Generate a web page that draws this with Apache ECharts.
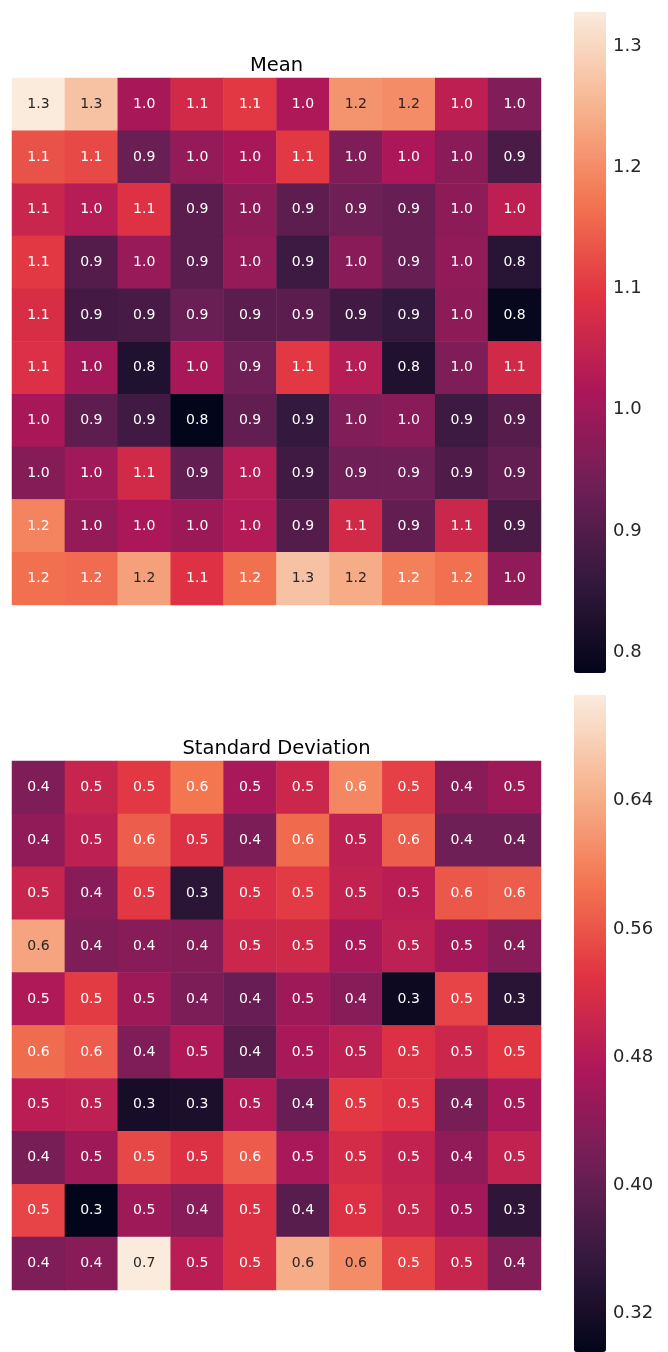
<!DOCTYPE html>
<html><head><meta charset="utf-8">
<script src="https://cdn.jsdelivr.net/npm/echarts@6/dist/echarts.min.js"></script>
<style>html,body{margin:0;padding:0;background:#fff}#c{width:668px;height:1352px}</style>
</head><body><div id="c"></div>
<script>
const colIdx = ['0','1','2','3','4','5','6','7','8','9'];
const rowIdx = ['0','1','2','3','4','5','6','7','8','9'];
const meanValues = [
  [1.328, 1.27, 1.01, 1.07, 1.10, 1.02, 1.21, 1.20, 1.04, 0.96],
  [1.13, 1.12, 0.93, 0.985, 1.01, 1.10, 0.957, 1.015, 0.97, 0.89],
  [1.058, 1.03, 1.09, 0.91, 0.975, 0.915, 0.935, 0.925, 0.975, 1.04],
  [1.10, 0.90, 0.99, 0.91, 0.985, 0.87, 0.97, 0.925, 0.98, 0.84],
  [1.08, 0.88, 0.885, 0.93, 0.91, 0.91, 0.875, 0.86, 0.975, 0.79],
  [1.085, 1.005, 0.83, 1.01, 0.935, 1.10, 1.03, 0.83, 0.957, 1.07],
  [1.01, 0.915, 0.875, 0.783, 0.92, 0.86, 0.96, 0.97, 0.87, 0.905],
  [0.965, 1.0, 1.07, 0.92, 1.03, 0.875, 0.935, 0.935, 0.895, 0.92],
  [1.19, 0.985, 1.015, 0.995, 1.025, 0.90, 1.07, 0.92, 1.06, 0.89],
  [1.165, 1.16, 1.225, 1.09, 1.165, 1.27, 1.24, 1.185, 1.165, 0.98]
];
const stdValues = [
  [0.427, 0.50, 0.535, 0.589, 0.468, 0.505, 0.604, 0.542, 0.435, 0.456],
  [0.444, 0.49, 0.567, 0.525, 0.425, 0.578, 0.49, 0.567, 0.41, 0.41],
  [0.50, 0.435, 0.535, 0.343, 0.52, 0.537, 0.495, 0.485, 0.563, 0.567],
  [0.632, 0.427, 0.435, 0.432, 0.505, 0.51, 0.468, 0.49, 0.462, 0.435],
  [0.475, 0.537, 0.456, 0.425, 0.405, 0.456, 0.435, 0.308, 0.545, 0.34],
  [0.58, 0.565, 0.427, 0.475, 0.39, 0.468, 0.49, 0.525, 0.505, 0.532],
  [0.485, 0.49, 0.32, 0.325, 0.48, 0.405, 0.535, 0.527, 0.42, 0.468],
  [0.42, 0.456, 0.548, 0.525, 0.565, 0.468, 0.515, 0.495, 0.444, 0.495],
  [0.545, 0.296, 0.456, 0.435, 0.525, 0.39, 0.525, 0.50, 0.462, 0.347],
  [0.427, 0.435, 0.706, 0.485, 0.525, 0.64, 0.61, 0.543, 0.50, 0.43]
];
const meanTicks = [0.8, 0.9, 1.0, 1.1, 1.2, 1.3];
const stdTicks = [0.32, 0.40, 0.48, 0.56, 0.64];
const titles = ['Mean', 'Standard Deviation'];

const rocket = ['#03051a','#35193e','#701f57','#ad1759','#e13342','#f37651','#f6b48f','#faebdd'];
function range(m){const f=m.flat();return [Math.min(...f),Math.max(...f)];}
const [meanMin, meanMax] = range(meanValues);
const [stdMin, stdMax] = range(stdValues);

function build(vals, mn, mx){
  const out=[];
  vals.forEach((row,r)=>row.forEach((v,c)=>{
    const t=(v-mn)/(mx-mn);
    out.push({value:[c,r,v], label:{color: t>0.758 ? '#262626' : '#ffffff'}});
  }));
  return out;
}

const G = [
  {left:12, top:78, width:529, height:527},
  {left:12, top:761, width:529, height:529}
];
const CB = [
  {left:574, top:12, width:32, height:661},
  {left:574, top:695, width:32, height:657}
];
const FONT = '"DejaVu Sans", sans-serif';

const option = {
  animation:false,
  backgroundColor:'#ffffff',
  textStyle:{fontFamily:FONT},
  title:[
    {text:titles[0], left:276.5, top:56, textAlign:'center', padding:0, textStyle:{fontFamily:FONT, fontSize:19.5, fontWeight:'normal', color:'#000'}},
    {text:titles[1], left:276.5, top:739, textAlign:'center', padding:0, textStyle:{fontFamily:FONT, fontSize:19.5, fontWeight:'normal', color:'#000'}}
  ],
  grid:[G[0],G[1],CB[0],CB[1]],
  xAxis:[
    {type:'category', data:colIdx, gridIndex:0, show:false},
    {type:'category', data:colIdx, gridIndex:1, show:false},
    {type:'value', gridIndex:2, show:false},
    {type:'value', gridIndex:3, show:false}
  ],
  yAxis:[
    {type:'category', data:rowIdx, gridIndex:0, inverse:true, show:false},
    {type:'category', data:rowIdx, gridIndex:1, inverse:true, show:false},
    {type:'value', gridIndex:2, min:meanMin, max:meanMax, position:'right',
     axisLine:{show:false}, splitLine:{show:false},
     axisTick:{show:true, length:5, customValues:meanTicks, lineStyle:{color:'#262626', width:1}},
     axisLabel:{customValues:meanTicks, formatter:v=>v.toFixed(1), fontSize:18, color:'#262626', margin:7, fontFamily:FONT}},
    {type:'value', gridIndex:3, min:stdMin, max:stdMax, position:'right',
     axisLine:{show:false}, splitLine:{show:false},
     axisTick:{show:true, length:5, customValues:stdTicks, lineStyle:{color:'#262626', width:1}},
     axisLabel:{customValues:stdTicks, formatter:v=>v.toFixed(2), fontSize:18, color:'#262626', margin:7, fontFamily:FONT}}
  ],
  visualMap:[
    {type:'continuous', seriesIndex:0, min:meanMin, max:meanMax, inRange:{color:rocket},
     orient:'vertical', left:CB[0].left, top:CB[0].top, itemWidth:CB[0].width, itemHeight:CB[0].height,
     padding:0, calculable:false, hoverLink:false, text:null, showLabel:false},
    {type:'continuous', seriesIndex:1, min:stdMin, max:stdMax, inRange:{color:rocket},
     orient:'vertical', left:CB[1].left, top:CB[1].top, itemWidth:CB[1].width, itemHeight:CB[1].height,
     padding:0, calculable:false, hoverLink:false, text:null, showLabel:false}
  ],
  series:[
    {type:'heatmap', xAxisIndex:0, yAxisIndex:0, data:build(meanValues, meanMin, meanMax),
     label:{show:true, fontSize:14, fontFamily:FONT, formatter:p=>p.value[2].toFixed(1)},
     emphasis:{disabled:true}},
    {type:'heatmap', xAxisIndex:1, yAxisIndex:1, data:build(stdValues, stdMin, stdMax),
     label:{show:true, fontSize:14, fontFamily:FONT, formatter:p=>p.value[2].toFixed(1)},
     emphasis:{disabled:true}}
  ]
};
const chart = echarts.init(document.getElementById('c'), null, {renderer:'canvas'});
chart.setOption(option);
</script>
</body></html>
